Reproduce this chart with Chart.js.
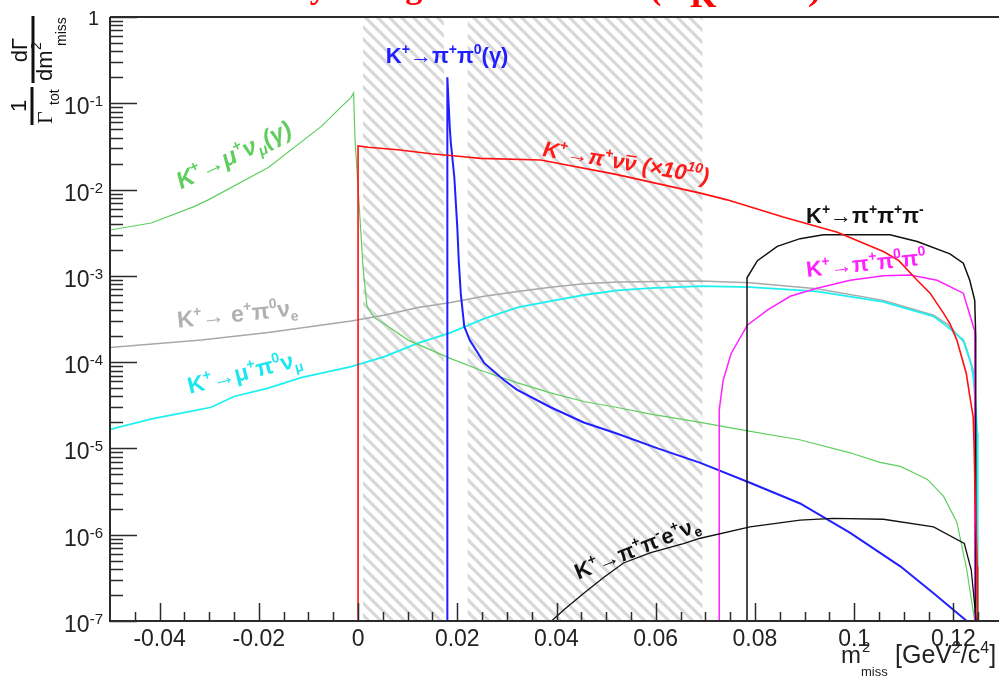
<!DOCTYPE html>
<html>
<head>
<meta charset="utf-8">
<script src="https://cdn.jsdelivr.net/npm/chart.js@4.4.1/dist/chart.umd.min.js"></script>
<style>
  html, body { margin: 0; padding: 0; background: #fff; overflow: hidden; }
  #wrap { width: 1004px; height: 678px; }
</style>
</head>
<body>
<div id="wrap"><canvas id="missChart" width="1004" height="678"></canvas></div>
<script>
// ========== DATA (m2miss in GeV2/c4, normalised rate) ==========
const pnnX = [0.0, 0.0, 0.002, 0.008, 0.0147, 0.0213, 0.0247, 0.0368, 0.052, 0.069, 0.0744, 0.0857, 0.0966, 0.106, 0.109, 0.1127, 0.1153, 0.118, 0.1193, 0.1207, 0.1226, 0.1232, 0.124, 0.1242, 0.1244, 0.1248, 0.1249];
const pnnY = [1e-7, 3.2e-2, 3.1e-2, 2.9e-2, 2.6e-2, 2.4e-2, 2.3e-2, 2.2e-2, 1.5e-2, 9.1e-3, 7.6e-3, 4.8e-3, 3.2e-3, 1.9e-3, 1.5e-3, 8.9e-4, 6.3e-4, 3.7e-4, 2.8e-4, 1.8e-4, 7.4e-5, 4.4e-5, 2.3e-5, 9.5e-6, 2.5e-6, 4.3e-7, 1e-7];

const kmunuX = [-0.05, -0.0417, -0.0332, -0.0302, -0.0181, -0.0074, -0.0034, -0.0014, -0.0009, -0.0006, -0.0002, 0.0002, 0.0010, 0.0018, 0.0032, 0.0052, 0.0101, 0.0187, 0.0254, 0.0320, 0.0388, 0.0455, 0.0520, 0.0590, 0.0690, 0.0785, 0.0890, 0.0992, 0.1052, 0.1093, 0.1121, 0.1147, 0.1180, 0.1207, 0.1227, 0.1243];
const kmunuY = [3.4e-3, 4.1e-3, 6.3e-3, 7.6e-3, 1.8e-2, 5.4e-2, 9.1e-2, 0.117, 0.132, 3.7e-2, 1.6e-2, 6.9e-3, 1.26e-3, 4.4e-4, 3.3e-4, 2.8e-4, 1.8e-4, 1.1e-4, 7.8e-5, 5.8e-5, 4.4e-5, 3.5e-5, 3.0e-5, 2.5e-5, 2.0e-5, 1.6e-5, 1.26e-5, 8.9e-6, 6.9e-6, 6.2e-6, 5.2e-6, 4.4e-6, 2.8e-6, 1.4e-6, 3.9e-7, 1e-7];

const pipi0X = [0.0180, 0.0180, 0.0185, 0.0187, 0.0194, 0.0200, 0.0203, 0.0207, 0.0214, 0.0225, 0.0254, 0.0294, 0.032, 0.0388, 0.0455, 0.052, 0.0604, 0.069, 0.079, 0.0891, 0.0992, 0.1093, 0.116, 0.1227];
const pipi0Y = [1e-7, 0.20, 5.1e-2, 3.5e-2, 1.4e-2, 3.7e-3, 1.5e-3, 6.3e-4, 2.6e-4, 1.8e-4, 9.8e-5, 6.2e-5, 4.8e-5, 3.0e-5, 2.0e-5, 1.5e-5, 1.0e-5, 6.8e-6, 4.0e-6, 2.3e-6, 1.05e-6, 4.3e-7, 2.1e-7, 1.0e-7];

const ke3X = [-0.05, -0.0316, -0.0181, -0.0014, 0.0052, 0.0121, 0.0187, 0.0254, 0.0322, 0.0388, 0.0455, 0.0523, 0.069, 0.079, 0.0925, 0.1059, 0.116, 0.119, 0.1223, 0.124, 0.1245, 0.1249];
const ke3Y = [1.48e-4, 1.8e-4, 2.2e-4, 3.0e-4, 3.5e-4, 4.3e-4, 4.9e-4, 5.8e-4, 6.6e-4, 7.4e-4, 8.1e-4, 8.5e-4, 8.7e-4, 8.3e-4, 7.1e-4, 5.2e-4, 3.5e-4, 2.7e-4, 1.66e-4, 8.1e-5, 2.5e-5, 1e-7];

const kmu3X = [-0.05, -0.0416, -0.0351, -0.0296, -0.0250, -0.0181, -0.0115, -0.0014, 0.0052, 0.0121, 0.0187, 0.0254, 0.0322, 0.0388, 0.0455, 0.0523, 0.059, 0.069, 0.079, 0.0925, 0.1059, 0.116, 0.1187, 0.122, 0.1237, 0.1243, 0.1248, 0.1249, 0.1249];
const kmu3Y = [1.66e-5, 2.2e-5, 2.6e-5, 3.0e-5, 4.0e-5, 5.0e-5, 6.6e-5, 8.9e-5, 1.15e-4, 1.66e-4, 2.2e-4, 3.2e-4, 4.3e-4, 5.1e-4, 6.0e-4, 6.8e-4, 7.2e-4, 7.6e-4, 7.4e-4, 6.6e-4, 5.0e-4, 3.4e-4, 2.6e-4, 1.8e-4, 8.9e-5, 5.1e-5, 1.5e-5, 3.0e-7, 1e-7];

const k3piX = [0.0784, 0.0784, 0.0805, 0.0845, 0.0891, 0.0938, 0.1000, 0.1072, 0.1127, 0.1193, 0.122, 0.1233, 0.1243, 0.1245, 0.1245];
const k3piY = [1e-7, 9.5e-4, 1.5e-3, 2.2e-3, 2.7e-3, 3.0e-3, 3.0e-3, 3.0e-3, 2.5e-3, 1.8e-3, 1.4e-3, 8.9e-4, 5.2e-4, 2.0e-4, 1e-7];

const k3pi0X = [0.0728, 0.0728, 0.0736, 0.0752, 0.0785, 0.0825, 0.0871, 0.0925, 0.0992, 0.1059, 0.1113, 0.1167, 0.122, 0.1243, 0.1243];
const k3pi0Y = [1e-7, 2.8e-5, 6.2e-5, 1.26e-4, 2.7e-4, 4.0e-4, 5.8e-4, 7.2e-4, 8.9e-4, 1.0e-3, 1.02e-3, 8.9e-4, 6.3e-4, 2.3e-4, 1e-7];

const ke4X = [0.0390, 0.0415, 0.0455, 0.0495, 0.0535, 0.059, 0.0656, 0.069, 0.079, 0.0891, 0.0958, 0.1059, 0.116, 0.1222, 0.1236, 0.1246];
const ke4Y = [1.0e-7, 1.35e-7, 2.1e-7, 3.2e-7, 4.7e-7, 6.2e-7, 7.9e-7, 9.1e-7, 1.23e-6, 1.48e-6, 1.55e-6, 1.51e-6, 1.23e-6, 7.9e-7, 3.9e-7, 1.0e-7];

// hatched regions (GeV2/c4)
const bandStart = [0.001, 0.0221];
const bandEnd = [0.0173, 0.0694];

// axis ticks
const xMajorTicks = [-0.04, -0.02, 0, 0.02, 0.04, 0.06, 0.08, 0.1, 0.12];
const xMajorLabels = ['-0.04', '-0.02', '0', '0.02', '0.04', '0.06', '0.08', '0.1', '0.12'];
const yDecades = [1, 1e-1, 1e-2, 1e-3, 1e-4, 1e-5, 1e-6, 1e-7];
const yExponents = ['', '-1', '-2', '-3', '-4', '-5', '-6', '-7'];

// ========== HELPERS ==========
const SANS = '"Liberation Sans", Arial, sans-serif';

function pts(xs, ys) {
    return xs.map((x, i) => ({ x: x, y: ys[i] }));
}

// very small TLatex-like writer: ^x sup, _x sub, ~x overline, {..} groups
function drawRich(ctx, str, x, y, angle, size, color, style) {
    const parts = [];
    let i = 0;
    while (i < str.length) {
        const c = str[i];
        if (c === '^' || c === '_' || c === '~') {
            let t;
            if (str[i + 1] === '{') {
                const j = str.indexOf('}', i);
                t = str.slice(i + 2, j);
                i = j + 1;
            } else {
                t = str[i + 1];
                i += 2;
            }
            parts.push({ t: t, m: c });
        } else {
            parts.push({ t: c, m: '' });
            i++;
        }
    }
    ctx.save();
    ctx.translate(x, y);
    ctx.rotate(angle * Math.PI / 180);
    ctx.fillStyle = color;
    ctx.strokeStyle = color;
    ctx.textAlign = 'left';
    ctx.textBaseline = 'alphabetic';
    let cx = 0;
    parts.forEach(p => {
        const small = p.m === '^' || p.m === '_';
        const fs = small ? Math.round(size * 0.62) : size;
        ctx.font = style + ' ' + fs + 'px ' + SANS;
        const dy = p.m === '^' ? -size * 0.42 : (p.m === '_' ? size * 0.22 : 0);
        ctx.fillText(p.t, cx, dy);
        const w = ctx.measureText(p.t).width;
        if (p.m === '~') {
            ctx.lineWidth = 1.5;
            ctx.beginPath();
            ctx.moveTo(cx + 1, -size * 0.66);
            ctx.lineTo(cx + w - 1, -size * 0.66);
            ctx.stroke();
        }
        cx += w;
    });
    ctx.restore();
}

// ========== PLUGIN: hatched bands ==========
const hatchPlugin = {
    id: 'hatch',
    beforeDatasetsDraw(chart) {
        const ctx = chart.ctx, ca = chart.chartArea, xs = chart.scales.x;
        const tile = document.createElement('canvas');
        tile.width = 12; tile.height = 12;
        const t = tile.getContext('2d');
        t.strokeStyle = '#d8d8d8';
        t.lineWidth = 3.2;
        for (let k = -1; k <= 1; k++) {
            t.beginPath();
            t.moveTo(k * 12 - 2, -2);
            t.lineTo(k * 12 + 14, 14);
            t.stroke();
        }
        ctx.save();
        ctx.fillStyle = ctx.createPattern(tile, 'repeat');
        for (let b = 0; b < bandStart.length; b++) {
            const x0 = xs.getPixelForValue(bandStart[b]);
            const x1 = xs.getPixelForValue(bandEnd[b]);
            ctx.fillRect(x0, ca.top + 1, x1 - x0, ca.bottom - ca.top - 1);
        }
        ctx.restore();
    }
};

// ========== PLUGIN: ROOT style frame, ticks, texts ==========
const framePlugin = {
    id: 'rootFrame',
    afterDraw(chart) {
        const ctx = chart.ctx, ca = chart.chartArea;
        const xs = chart.scales.x, ys = chart.scales.y;
        ctx.save();

        // title (only its lowest part is inside the picture)
        ctx.fillStyle = '#ff0000';
        ctx.font = 'bold 34px "Liberation Serif", serif';
        ctx.textBaseline = 'alphabetic';
        ctx.textAlign = 'left';
        ctx.fillText('Decay backgrounds', 238, -2);
        ctx.fillText('(', 650, -1);
        ctx.fillText('K', 690, 7);
        ctx.font = 'bold italic 34px "Liberation Serif", serif';
        ctx.fillText('π)', 793, 0);

        // frame
        ctx.strokeStyle = '#2b2b2b';
        ctx.lineWidth = 2;
        ctx.beginPath();
        ctx.moveTo(ca.left, ca.top);
        ctx.lineTo(ca.right, ca.top);
        ctx.moveTo(ca.left, ca.top);
        ctx.lineTo(ca.left, ca.bottom);
        ctx.lineTo(ca.right, ca.bottom);
        ctx.lineTo(ca.right, ca.top);
        ctx.stroke();

        // x ticks
        ctx.lineWidth = 1.5;
        ctx.beginPath();
        for (let i = -9; i <= 25; i++) {
            const px = Math.round(xs.getPixelForValue(i * 0.005)) + 0.5;
            const len = (i % 4 === 0) ? 18 : 9;
            ctx.moveTo(px, ca.bottom);
            ctx.lineTo(px, ca.bottom - len);
        }
        // y ticks
        yDecades.forEach((d, k) => {
            const py = Math.round(ys.getPixelForValue(d)) + 0.5;
            ctx.moveTo(ca.left, py);
            ctx.lineTo(ca.left + 27, py);
            if (d < 1) {
                for (let m = 2; m <= 9; m++) {
                    const pm = Math.round(ys.getPixelForValue(m * d)) + 0.5;
                    ctx.moveTo(ca.left, pm);
                    ctx.lineTo(ca.left + 13, pm);
                }
            }
        });
        ctx.stroke();

        // x labels
        ctx.fillStyle = '#222';
        ctx.font = '23px ' + SANS;
        ctx.textAlign = 'center';
        xMajorTicks.forEach((v, i) => {
            ctx.fillText(xMajorLabels[i], xs.getPixelForValue(v), 646);
        });

        // y labels
        yDecades.forEach((d, k) => {
            const py = ys.getPixelForValue(d);
            if (yExponents[k] === '') {
                ctx.font = '20px ' + SANS;
                ctx.textAlign = 'right';
                ctx.fillText('1', 99, py + 8);
                return;
            }
            ctx.font = '15px ' + SANS;
            const sw = ctx.measureText(yExponents[k]).width;
            ctx.textAlign = 'left';
            ctx.fillText(yExponents[k], 103 - sw, py + 3);
            ctx.font = '23px ' + SANS;
            const w10 = ctx.measureText('10').width;
            ctx.fillText('10', 103 - sw - w10, py + 11);
        });

        // x title: m^2_miss [GeV^2/c^4]
        ctx.textAlign = 'left';
        ctx.font = '24px ' + SANS;
        ctx.fillText('m', 841, 663);
        const mW = ctx.measureText('m').width;
        ctx.font = '15px ' + SANS;
        ctx.fillText('2', 841 + mW + 1, 652);
        ctx.font = '13px ' + SANS;
        ctx.fillText('miss', 841 + mW, 676);
        drawRich(ctx, '[GeV^2/c^4]', 895, 663, 0, 25, '#222', 'normal');

        // y title (rotated fractions)
        ctx.translate(0, 130);
        ctx.rotate(-Math.PI / 2);
        ctx.fillStyle = '#111';
        ctx.strokeStyle = '#111';
        ctx.lineWidth = 3;
        ctx.beginPath();
        ctx.moveTo(5, 32); ctx.lineTo(43, 32);
        ctx.moveTo(47, 33); ctx.lineTo(114, 33);
        ctx.stroke();
        ctx.textAlign = 'center';
        ctx.font = '22px ' + SANS;
        ctx.fillText('1', 24, 26);
        ctx.fillText('dΓ', 80, 27);
        ctx.textAlign = 'left';
        ctx.font = '22px "Liberation Serif", serif';
        ctx.fillText('Γ', 6, 52);
        ctx.font = '14px ' + SANS;
        ctx.fillText('tot', 25, 59);
        ctx.font = '22px ' + SANS;
        ctx.fillText('dm', 49, 52);
        ctx.font = '14px ' + SANS;
        ctx.fillText('2', 80, 41);
        ctx.fillText('miss', 84, 66);
        ctx.restore();

        // curve labels
        labels.forEach(l => {
            drawRich(ctx, l.text, xs.getPixelForValue(l.x), ys.getPixelForValue(l.y), l.angle, l.size, l.color, l.style);
        });
    }
};

// ========== CURVE LABELS ==========
const labels = [
    { text: 'K^+→μ^+ν_μ(γ)', x: -0.0357, y: 1.0e-2, angle: -26, size: 24, color: '#5fce5f', style: 'italic bold' },
    { text: 'K^+→π^+π^0(γ)', x: 0.0056, y: 0.29, angle: 0, size: 22, color: '#1f1fff', style: 'bold' },
    { text: 'K^+→π^+ν~ν (×10^{10})', x: 0.0371, y: 2.45e-2, angle: 9.5, size: 22, color: '#ff1a1a', style: 'italic bold' },
    { text: 'K^+→π^+π^+π^-', x: 0.0903, y: 4.1e-3, angle: 0, size: 22, color: '#111111', style: 'bold' },
    { text: 'K^+→π^+π^0π^0', x: 0.0905, y: 9.7e-4, angle: -6, size: 22, color: '#ff22ff', style: 'bold' },
    { text: 'K^+→ e^+π^0ν_e', x: -0.0363, y: 2.5e-4, angle: -6, size: 23, color: '#b0b0b0', style: 'bold' },
    { text: 'K^+→μ^+π^0ν_μ', x: -0.0339, y: 4.3e-5, angle: -14, size: 23, color: '#1ee6ee', style: 'bold' },
    { text: 'K^+→π^+π^-e^+ν_e', x: 0.0444, y: 3.0e-7, angle: -22, size: 22, color: '#111111', style: 'bold' }
];

// ========== CHART ==========
document.addEventListener('DOMContentLoaded', function() {
    const canvas = document.getElementById('missChart');
    new Chart(canvas, {
        type: 'line',
        data: {
            datasets: [
                { label: 'pnn', data: pts(pnnX, pnnY), borderColor: '#ff1010', borderWidth: 1.6 },
                { label: 'k3pi', data: pts(k3piX, k3piY), borderColor: '#111111', borderWidth: 1.5 },
                { label: 'ke4', data: pts(ke4X, ke4Y), borderColor: '#111111', borderWidth: 1.3 },
                { label: 'k3pi0', data: pts(k3pi0X, k3pi0Y), borderColor: '#ff22ff', borderWidth: 1.5 },
                { label: 'pipi0', data: pts(pipi0X, pipi0Y), borderColor: '#2020ff', borderWidth: 2 },
                { label: 'kmunu', data: pts(kmunuX, kmunuY), borderColor: '#5fce5f', borderWidth: 1.2 },
                { label: 'kmu3', data: pts(kmu3X, kmu3Y), borderColor: '#1ef0f0', borderWidth: 1.8 },
                { label: 'ke3', data: pts(ke3X, ke3Y), borderColor: '#a8a8a8', borderWidth: 1.5 }
            ]
        },
        options: {
            responsive: false,
            animation: false,
            devicePixelRatio: 1,
            layout: { padding: { left: 110, top: 17, right: 1, bottom: 57 } },
            elements: {
                point: { radius: 0 },
                line: { tension: 0, fill: false }
            },
            plugins: {
                legend: { display: false },
                tooltip: { enabled: false }
            },
            scales: {
                x: { type: 'linear', display: false, min: -0.05, max: 0.13 },
                y: { type: 'logarithmic', display: false, min: 1e-7, max: 1 }
            }
        },
        plugins: [hatchPlugin, framePlugin]
    });
});
</script>
</body>
</html>
